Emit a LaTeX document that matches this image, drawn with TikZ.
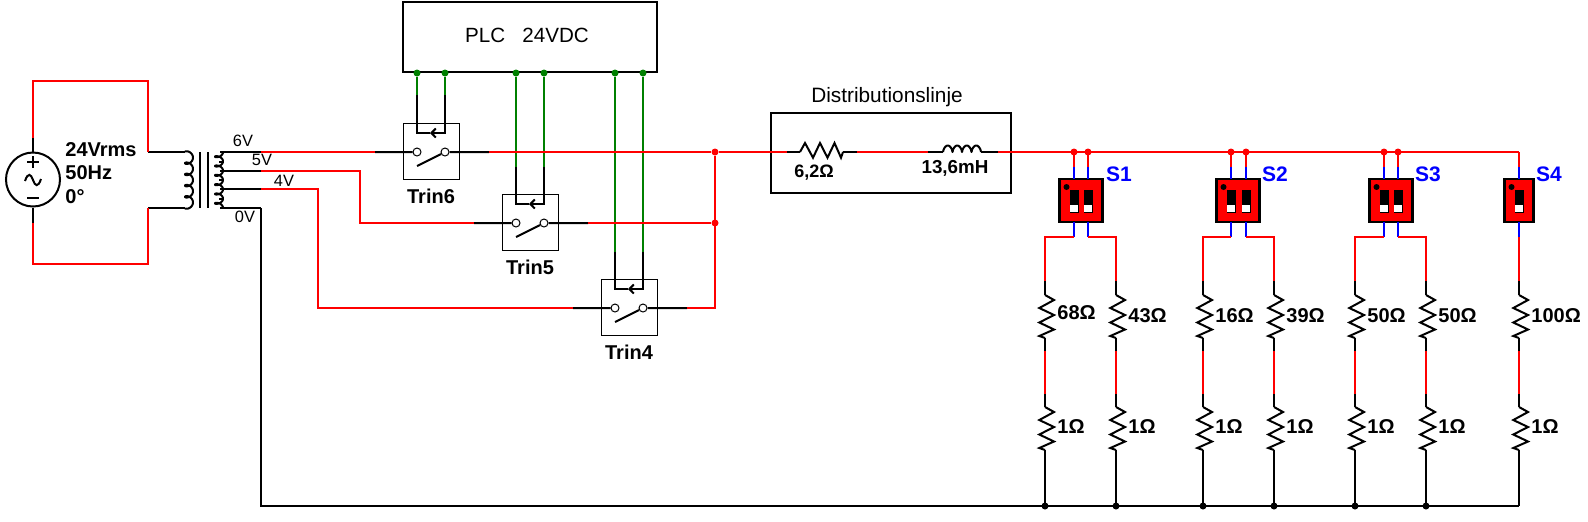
\documentclass[tikz,border=0pt]{standalone}
\usepackage{fontspec}
\setmainfont{Liberation Sans}
\usetikzlibrary{positioning,arrows.meta}
\definecolor{wirered}{RGB}{255,0,0}
\definecolor{wiregreen}{RGB}{0,128,0}
\definecolor{wireblue}{RGB}{0,0,255}
\tikzset{>={Straight Barb[width=4.5pt,length=2.2pt]}}
\tikzset{wire/.style = {wirered, line width=1pt},
        lead/.style = {black, line width=1pt},
        ctrl/.style = {wiregreen, line width=1pt},
        poleline/.style = {wireblue, line width=1pt},
        plainbox/.style = {draw, line width=1pt, inner sep=0pt},
        trinbox/.style = {draw, line width=0.5pt, minimum size=28pt, inner sep=0pt},
        contact/.style = {draw, fill=white, circle, line width=0.5pt, minimum size=4pt, inner sep=0pt},
        jdot/.style = {fill, circle, minimum size=3.5pt, inner sep=0pt},
        dipbox/.style = {draw, fill=wirered, line width=1.1pt, minimum height=21.5pt, inner sep=0pt},
        lbl/.style = {font=\fontsize{10}{11.75}\selectfont\bfseries, inner sep=0pt, align=left},
        vlbl/.style = {font=\fontsize{8.2}{10}\selectfont, inner sep=0pt},
        dlbl/.style = {font=\fontsize{10.5}{12}\selectfont\bfseries, text=wireblue, inner sep=0pt},
        resv/.pic = {
          \coordinate (-t) at (0,0);
          \coordinate (-b) at (0,43);
          \draw[lead] (-t) -- (9,5) -- (-5.7,13) -- (9,20) -- (-5.7,27.5) -- (9,34.5) -- (-5.7,41) -- (-b);
        }
    }

\begin{document}
\begin{tikzpicture}[x=0.5pt,y=-0.5pt]
  \useasboundingbox (0,0) rectangle (1588,521);

  % source and transformer
  \node[draw, circle, line width=1pt, minimum size=27pt, inner sep=0pt] (src) at (33,179.5) {};
  \draw[lead] (27,162) -- (39,162) (33,156) -- (33,168) (27,198) -- (39,198);
  \draw[lead] (25,181) .. controls (28,172) and (31,174) .. (33,180) .. controls (35,186) and (38,188) .. (41,179);
  \node[lbl, anchor=west] (srclbl) at (65,173) {24Vrms\\50Hz\\0°};
  \coordinate (srcT) at (33,138);
  \coordinate (srcB) at (33,223);
  \coordinate (priT) at (148,152);
  \coordinate (priB) at (148,208);
  \coordinate (coilT) at (185,152);
  \coordinate (coilB) at (185,208);
  \coordinate (topR) at (148,81);
  \coordinate (botR) at (148,264);
  \draw[lead] (src) -- (srcT) (src) -- (srcB) (priT) -- (coilT) (priB) -- (coilB);
  \draw[wire] (srcT) |- (topR) -- (priT);
  \draw[wire] (srcB) |- (botR) -- (priB);
  \draw[lead, line join=round] plot[smooth, domain=0:1800, samples=121] ({189-4*cos(\x)},{152+\x/360*11.2-3*sin(\x)});
  \draw[lead, line join=round] plot[smooth, domain=0:2160, samples=145] ({219+4*cos(\x)},{152+\x/360*9.33+2.4*sin(\x)});
  \foreach \i in {200,208} {
    \draw[lead] (\i,152) -- (\i,208);
  }
  \foreach \i in {161.5,180,199} {
    \draw[lead] (219,\i) -- (224,\i);
  }
  \foreach \n/\y in {6/152,5/171,4/189,0/208} {
    \coordinate (tap\n) at (261,\y);
    \coordinate (sec\n) at (220,\y);
    \draw[lead] (sec\n) -- (tap\n);
  }
  \node[vlbl] (v6) at (243,141) {6V};
  \node[vlbl] (v5) at (262,160) {5V};
  \node[vlbl] (v4) at (284,181) {4V};
  \node[vlbl] (v0) at (245,217) {0V};

  % plc and relays
  \node[plainbox, minimum width=127pt, minimum height=35pt] (plc) at (530,37) {};
  \node[font=\fontsize{10.3}{12}\selectfont, inner sep=0pt] (plctxt) at (527,35) {PLC~~~24VDC};

  \foreach \n/\cx/\cy/\g in {Trin6/431/152/95,Trin5/530/223/167,Trin4/629/308/252} {
    \node[trinbox] (\n) at (\cx,{\cy-1}) {};
    \node[lbl, below=4.5pt of \n] (\n-lbl) {\n};
    \node[contact] (\n-l) at ({\cx-14},\cy) {};
    \node[contact] (\n-r) at ({\cx+14},\cy) {};
    \node[jdot, wiregreen] (\n-pa) at ({\cx-14},73) {};
    \node[jdot, wiregreen] (\n-pb) at ({\cx+14},73) {};
    \coordinate (\n-ga) at ({\cx-14},\g);
    \coordinate (\n-gb) at ({\cx+14},\g);
    \coordinate (\n-m) at ({\cx-1},{\cy-19});
    \coordinate (\n-h) at ({\cx-14},{\cy+14});
    \coordinate (\n-a) at ({\cx-56},\cy);
    \coordinate (\n-c) at ({\cx+58},\cy);
    \draw[ctrl] (\n-pa) -- (\n-ga) (\n-pb) -- (\n-gb);
    \draw[lead,->] (\n-gb) |- (\n-m);
    \draw[lead] (\n-m) -| (\n-ga);
    \draw[lead] (\n-a) -- (\n-l) (\n-r) -- (\n-c) (\n-h) -- (\n-r);
  }

  \node[jdot, wirered] (j6) at (715,152) {};
  \node[jdot, wirered] (j5) at (715,223) {};
  \coordinate (b5) at (360,171);
  \coordinate (b4) at (318,189);
  \coordinate (j4) at (715,308);
  \draw[wire] (tap6) -- (Trin6-a);
  \draw[wire] (tap5) -- (b5) |- (Trin5-a);
  \draw[wire] (tap4) -- (b4) |- (Trin4-a);
  \draw[wire] (Trin6-c) -- (j6);
  \draw[wire] (Trin5-c) -- (j5);
  \draw[wire] (Trin4-c) -- (j4) -- (j6);

  % line
  \node[plainbox, minimum width=120pt, minimum height=40pt] (dist) at (891,153) {};
  \node[above=2.5pt of dist, xshift=-2pt, inner sep=0pt, font=\fontsize{10.4}{12}\selectfont] (distlbl) {Distributionslinje};
  \coordinate (rl) at (787,152);
  \coordinate (rr) at (857,152);
  \coordinate (il) at (928,152);
  \coordinate (ir) at (998,152);
  \coordinate (la) at (943,152);
  \coordinate (lb) at (981,152);
  \pic[rotate=90] (rline) at (800,152) {resv};
  \draw[lead] (rl) -- (rline-t) (rline-b) -- (rr) (il) -- (la) (lb) -- (ir);
  \draw[lead, line join=round] plot[smooth, domain=0:720, samples=73] ({943+\x/720*38},{152-6.5*abs(sin(\x))^0.6});
  \node[font=\fontsize{9}{11}\selectfont\bfseries, inner sep=0pt] (rlbl) at (814,173) {6,2Ω};
  \node[font=\fontsize{9.4}{11}\selectfont\bfseries, inner sep=0pt] (llbl) at (955,168) {13,6mH};

  % load branches
  \coordinate (lineE) at (1519,152);
  \coordinate (busE) at (1519,506);
  \draw[wire] (j6) -- (rl) (rr) -- (il) (ir) -- (lineE);
  \draw[lead] (tap0) |- (busE);

  \foreach \sw/\x/\w/\lx in {S1/1081/21.5/1119,S2/1238/21.5/1275,S3/1391/21.5/1428,S4/1519/14.5/1549} {
    \node[dipbox, minimum width=\w pt] (\sw) at (\x,200.5) {};
    \node[dlbl] (\sw-lbl) at (\lx,174) {\sw};
    \node[jdot, black, minimum size=3pt] (\sw-dot) at ({\x-\w+7},187) {};
  }

  \foreach \br/\px/\xb/\val/\vy/\jn in {b1/1074/1045/68/313/1,b2/1088/1116/43/316/1,b3/1231/1203/16/316/1,b4/1246/1274/39/316/1,b5/1384/1355/50/316/1,b6/1398/1426/50/316/1,b7/1519/1519/100/316/0} {
    \coordinate (\br-j) at (\px,152);
    \coordinate (\br-u) at (\px,167);
    \coordinate (\br-d) at (\px,237);
    \coordinate (\br-e) at (\xb,281);
    \coordinate (\br-m) at (\xb,351);
    \coordinate (\br-n) at (\xb,394);
    \coordinate (\br-s) at (\xb,506);
    \pic (\br-ra) at (\xb,295) {resv};
    \pic (\br-rb) at (\xb,407) {resv};
    \draw[wire] (\br-j) -- (\br-u);
    \draw[poleline] (\br-u) -- (\px,179) (\px,222) -- (\br-d);
    \draw[wire] (\br-d) -| (\br-e);
    \draw[lead] (\br-e) -- (\br-ra-t) (\br-ra-b) -- (\br-m) (\br-n) -- (\br-rb-t) (\br-rb-b) -- (\br-s);
    \draw[wire] (\br-m) -- (\br-n);
    \node[lbl, anchor=west] (\br-lbl) at ({\xb+12},\vy) {\val Ω};
    \node[lbl, anchor=west] (\br-one) at ({\xb+12},427) {1Ω};
    \fill[black] (\px+4.5,190) rectangle +(-9,22.5);
    \fill[white] (\px+3.7,205) rectangle +(-7.4,6.7);
    \ifnum\jn=1
      \node[jdot, wirered] (\br-jd) at (\br-j) {};
      \node[jdot, black] (\br-sd) at (\br-s) {};
    \fi
  }
\end{tikzpicture}
\end{document}
